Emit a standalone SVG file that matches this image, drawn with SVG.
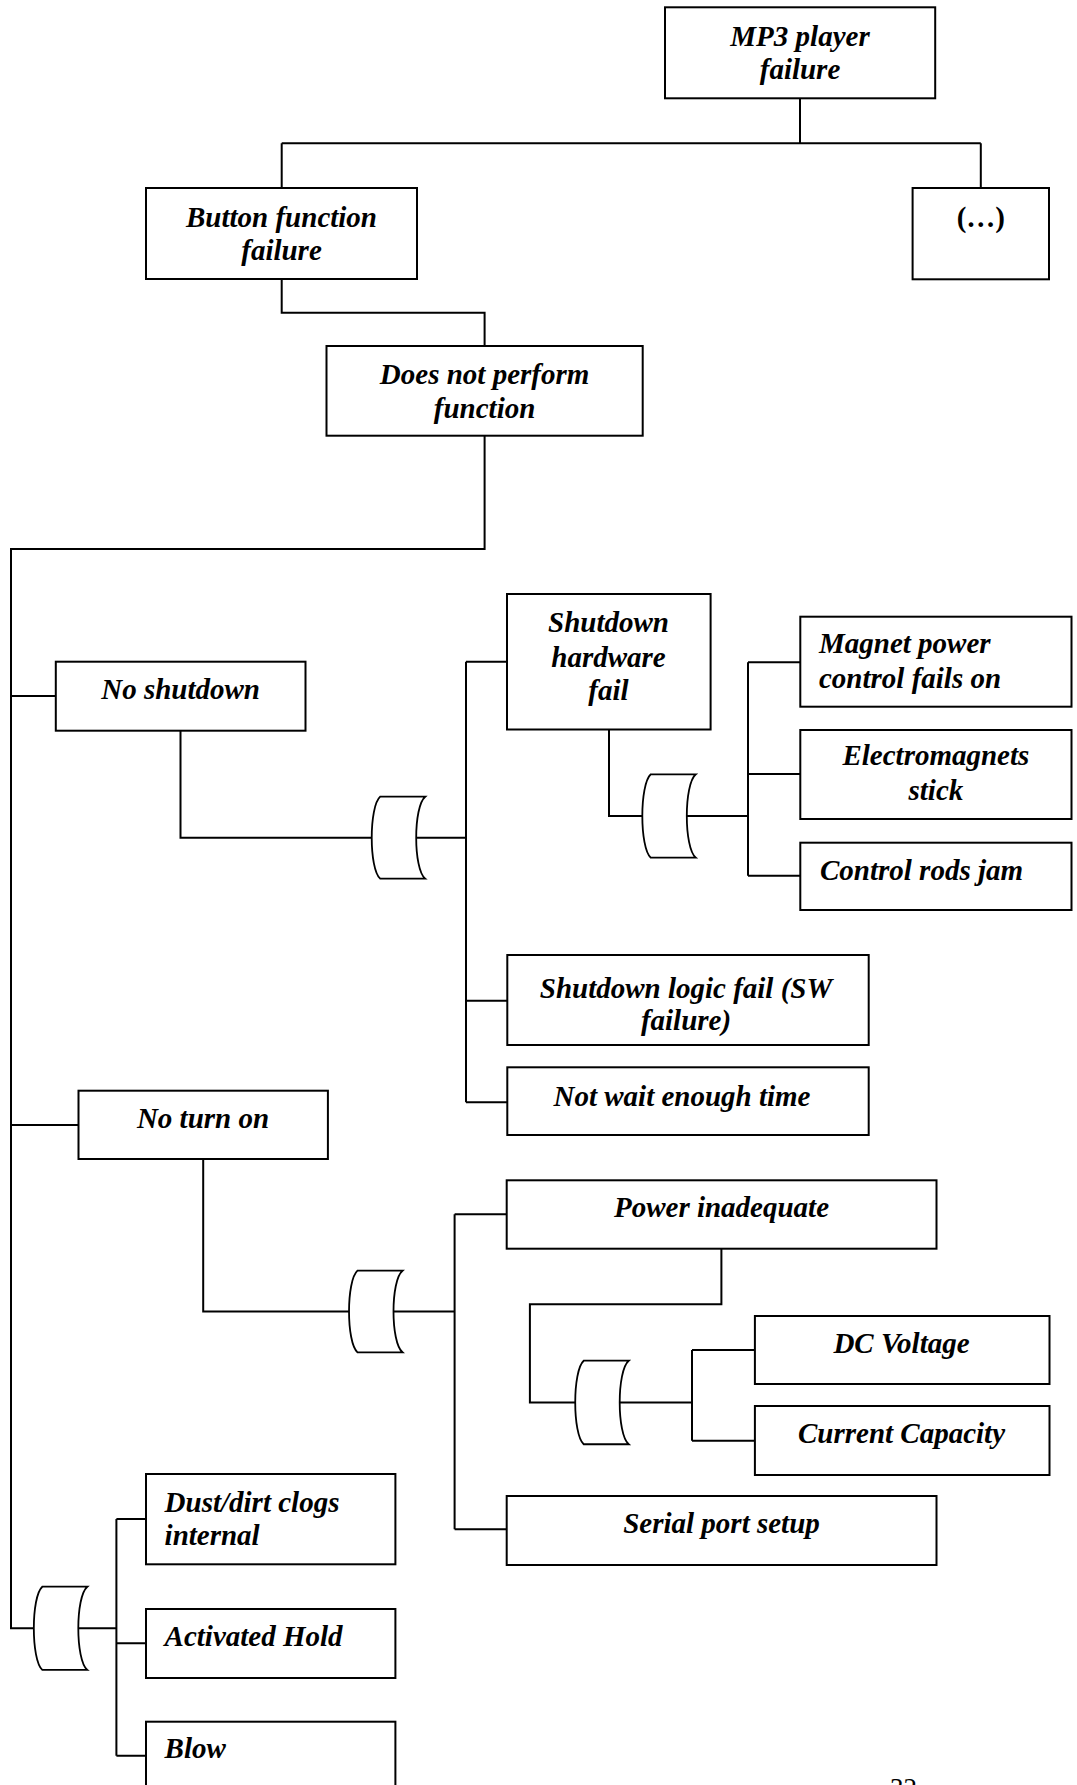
<svg xmlns="http://www.w3.org/2000/svg" width="1077" height="1785" viewBox="0 0 1077 1785">
<style>
.box{fill:#fff;stroke:#000;stroke-width:2}
.gate{fill:#fff;stroke:#000;stroke-width:1.8}
.ln{fill:none;stroke:#000;stroke-width:2}
text{font-family:"Liberation Serif","Times New Roman",serif;font-size:29px;font-weight:bold;font-style:italic;fill:#000}
.c{text-anchor:middle}
.up{font-style:normal}
</style>
<defs>
<path id="g" d="M8.5,0 H53.5 C41.5,10 41.5,73 53.5,83 H8.5 C-2.8,73 -2.8,10 8.5,0 Z"/>
</defs>
<rect width="1077" height="1785" fill="#fff"/>
<g id="connectors">
<path class="ln" d="M800,98.3 V143.3 M281.7,143.3 H980.8 M281.7,143.3 V188 M980.8,143.3 V188"/>
<path class="ln" d="M281.7,279 V312.7 H484.6 V346"/>
<path class="ln" d="M484.6,435.7 V549 H11 V1628.3 H33.8"/>
<path class="ln" d="M11,696 H55.8 M11,1125 H78.5"/>
<path class="ln" d="M180.5,730.7 V837.7 H371.7 M416,837.7 H466 M466,661.7 V1102.3 M466,661.7 H507 M466,1000.7 H507.3 M466,1102.3 H507.3"/>
<path class="ln" d="M609,729.5 V816 H642.3 M686.7,816 H748 M748,662.3 V875.7 M748,662.3 H800.3 M748,774 H800.3 M748,875.7 H800.3"/>
<path class="ln" d="M203.2,1159 V1311.5 H349 M392.6,1311.5 H454.6 M454.6,1214.3 V1529.3 M454.6,1214.3 H506.7 M454.6,1529.3 H506.7"/>
<path class="ln" d="M721.4,1248.7 V1304.3 H529.9 V1402.5 H575.2 M620,1402.5 H692 M692,1350 V1440.7 M692,1350 H754.9 M692,1440.7 H754.9"/>
<path class="ln" d="M78.5,1628.3 H116.4 M116.4,1519 V1755.7 M116.4,1519 H146 M116.4,1643.3 H146 M116.4,1755.7 H146"/>
</g>
<g id="gates">
<use href="#g" class="gate" transform="translate(371.7,796.7) scale(1,0.988)"/>
<use href="#g" class="gate" transform="translate(642.3,774.3) scale(1,1.005)"/>
<use href="#g" class="gate" transform="translate(349,1270.7) scale(1,0.983)"/>
<use href="#g" class="gate" transform="translate(575.2,1360.7) scale(1,1.007)"/>
<use href="#g" class="gate" transform="translate(33.8,1586.7) scale(1,1.003)"/>
</g>
<g id="n-mp3"><rect class="box" x="665" y="7.3" width="270.2" height="91"/><text class="c" x="800" y="46">MP3 player</text><text class="c" x="800" y="79">failure</text></g>
<g id="n-button"><rect class="box" x="146" y="188" width="271" height="91"/><text class="c" x="281.5" y="227">Button function</text><text class="c" x="281.5" y="260">failure</text></g>
<g id="n-more"><rect class="box" x="912.6" y="188" width="136.4" height="91.3"/><text class="c up" x="980.8" y="227">(…)</text></g>
<g id="n-dnp"><rect class="box" x="326.5" y="346" width="316.2" height="89.7"/><text class="c" x="484.6" y="384">Does not perform</text><text class="c" x="484.6" y="418">function</text></g>
<g id="n-noshut"><rect class="box" x="55.8" y="661.7" width="249.7" height="69"/><text class="c" x="180.6" y="699">No shutdown</text></g>
<g id="n-shw"><rect class="box" x="507" y="594" width="203.6" height="135.5"/><text class="c" x="608.5" y="632">Shutdown</text><text class="c" x="608.5" y="666.5">hardware</text><text class="c" x="608.5" y="700">fail</text></g>
<g id="n-magnet"><rect class="box" x="800.3" y="616.7" width="271.2" height="90"/><text x="819" y="653">Magnet power</text><text x="819" y="688">control fails on</text></g>
<g id="n-electro"><rect class="box" x="800.3" y="730" width="271.2" height="89"/><text class="c" x="935.9" y="765">Electromagnets</text><text class="c" x="935.9" y="800">stick</text></g>
<g id="n-rods"><rect class="box" x="800.3" y="842.7" width="271.2" height="67.3"/><text x="820" y="880">Control rods jam</text></g>
<g id="n-logic"><rect class="box" x="507.3" y="955" width="361.4" height="90"/><text class="c" x="686" y="998">Shutdown logic fail (SW</text><text class="c" x="686" y="1030">failure)</text></g>
<g id="n-wait"><rect class="box" x="507.3" y="1067.3" width="361.4" height="67.7"/><text class="c" x="682" y="1106">Not wait enough time</text></g>
<g id="n-noturn"><rect class="box" x="78.5" y="1090.7" width="249.4" height="68.3"/><text class="c" x="203" y="1128">No turn on</text></g>
<g id="n-power"><rect class="box" x="506.7" y="1180.3" width="429.8" height="68.4"/><text class="c" x="721.5" y="1217">Power inadequate</text></g>
<g id="n-dc"><rect class="box" x="754.9" y="1316" width="294.6" height="68"/><text class="c" x="901.5" y="1353">DC Voltage</text></g>
<g id="n-current"><rect class="box" x="754.9" y="1406" width="294.6" height="69"/><text class="c" x="901.5" y="1443">Current Capacity</text></g>
<g id="n-serial"><rect class="box" x="506.7" y="1496" width="429.8" height="69"/><text class="c" x="721.5" y="1533">Serial port setup</text></g>
<g id="n-dust"><rect class="box" x="146" y="1474" width="249.4" height="90.3"/><text x="164.6" y="1511.5">Dust/dirt clogs</text><text x="164.6" y="1545">internal</text></g>
<g id="n-hold"><rect class="box" x="146" y="1609" width="249.4" height="69"/><text x="164.6" y="1646">Activated Hold</text></g>
<g id="n-blow"><rect class="box" x="146" y="1721.7" width="249.4" height="100"/><text x="164.6" y="1758">Blow</text></g>
<text x="890" y="1797" style="font-style:normal;font-weight:normal;font-size:27px">32</text>
</svg>
